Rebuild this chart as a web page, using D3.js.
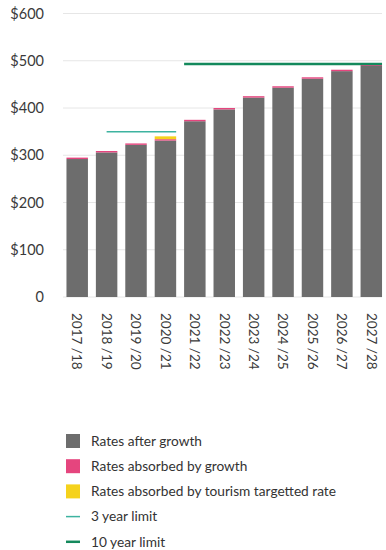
<!DOCTYPE html>
<html>
<head>
<meta charset="utf-8">
<script src="https://cdn.jsdelivr.net/npm/d3@7"></script>
<style>
  body { margin: 0; background: #fff; }
  text { font-family: Lato, "Open Sans", sans-serif; }
</style>
</head>
<body>
<div id="chart"></div>
<script>
// Rates per year, split into stacked parts
const years = ["2017 /18", "2018 /19", "2019 /20", "2020 /21", "2021 /22", "2022 /23",
  "2023 /24", "2024 /25", "2025 /26", "2026 /27", "2027 /28"];
const afterGrowth = [292, 306, 322, 331, 372, 397, 422, 443, 462, 478, 489];
const absorbedGrowth = [3, 3, 3, 3, 3, 3, 3, 3, 3, 3, 3];
const absorbedTourism = [0, 0, 0, 6, 0, 0, 0, 0, 0, 0, 0];
const yTicks = [0, 100, 200, 300, 400, 500, 600];

// limit lines: start year (from centre), end year (to right edge), value
const threeYearLimit = { from: "2018 /19", to: "2020 /21", value: 350 };
const tenYearLimit = { from: "2021 /22", to: "2027 /28", value: 493 };

const legendItems = [
  { label: "Rates after growth", type: "rect", color: "#6d6d6d" },
  { label: "Rates absorbed by growth", type: "rect", color: "#e5457e" },
  { label: "Rates absorbed by tourism targetted rate", type: "rect", color: "#f5d21c" },
  { label: "3 year limit", type: "line", color: "#3db3a0", width: 1.5 },
  { label: "10 year limit", type: "line", color: "#14895c", width: 2.5 }
];

const width = 386, height = 550;
const svg = d3.select("#chart").append("svg")
  .attr("width", width)
  .attr("height", height);

const x = d3.scaleBand()
  .domain(years)
  .range([62.5, 386])
  .paddingInner(0.27)
  .paddingOuter(0.135);

const y = d3.scaleLinear()
  .domain([0, 600])
  .range([297, 13.5]);

// gridlines
svg.append("g")
  .selectAll("line")
  .data(yTicks)
  .join("line")
  .attr("x1", 63)
  .attr("x2", 382)
  .attr("y1", d => y(d))
  .attr("y2", d => y(d))
  .attr("stroke", "#e6e6e6")
  .attr("stroke-width", 1);

// y labels
svg.append("g")
  .selectAll("text")
  .data(yTicks)
  .join("text")
  .attr("x", 44)
  .attr("y", d => y(d))
  .attr("dy", "0.35em")
  .attr("text-anchor", "end")
  .attr("font-size", 14.5)
  .attr("fill", "#3a3a3a")
  .text(d => d === 0 ? "0" : "$" + d);

// stacked bars
const rows = years.map((yr, i) => ({
  year: yr,
  after: afterGrowth[i],
  growth: absorbedGrowth[i],
  tourism: absorbedTourism[i]
}));
const keys = ["after", "growth", "tourism"];
const colors = { after: "#6d6d6d", growth: "#e5457e", tourism: "#f5d21c" };
const stack = d3.stack().keys(keys)(rows);

svg.append("g")
  .selectAll("g")
  .data(stack)
  .join("g")
  .attr("fill", s => colors[s.key])
  .selectAll("rect")
  .data(s => s)
  .join("rect")
  .attr("x", d => x(d.data.year))
  .attr("width", x.bandwidth())
  .attr("y", d => y(d[1]))
  .attr("height", d => y(d[0]) - y(d[1]));

// limit lines
svg.append("line")
  .attr("x1", x(threeYearLimit.from) + x.bandwidth() / 2)
  .attr("x2", x(threeYearLimit.to) + x.bandwidth())
  .attr("y1", y(threeYearLimit.value))
  .attr("y2", y(threeYearLimit.value))
  .attr("stroke", "#3db3a0")
  .attr("stroke-width", 1.5);

svg.append("line")
  .attr("x1", x(tenYearLimit.from))
  .attr("x2", x(tenYearLimit.to) + x.bandwidth())
  .attr("y1", y(tenYearLimit.value))
  .attr("y2", y(tenYearLimit.value))
  .attr("stroke", "#14895c")
  .attr("stroke-width", 2.5);

// x labels, rotated
svg.append("g")
  .selectAll("text")
  .data(years)
  .join("text")
  .attr("transform", d => `translate(${x(d) + x.bandwidth() / 2},313) rotate(90)`)
  .attr("dy", "0.35em")
  .attr("font-size", 13.5)
  .attr("fill", "#3a3a3a")
  .text(d => d);

// legend
const legend = svg.append("g")
  .selectAll("g")
  .data(legendItems)
  .join("g")
  .attr("transform", (d, i) => `translate(66,${441 + i * 25.2})`);

legend.filter(d => d.type === "rect")
  .append("rect")
  .attr("x", 0)
  .attr("y", -7)
  .attr("width", 14)
  .attr("height", 14)
  .attr("fill", d => d.color);

legend.filter(d => d.type === "line")
  .append("line")
  .attr("x1", 0)
  .attr("x2", 14)
  .attr("stroke", d => d.color)
  .attr("stroke-width", d => d.width);

legend.append("text")
  .attr("x", 25)
  .attr("dy", "0.35em")
  .attr("font-size", 13.7)
  .attr("fill", "#333")
  .text(d => d.label);
</script>
</body>
</html>
